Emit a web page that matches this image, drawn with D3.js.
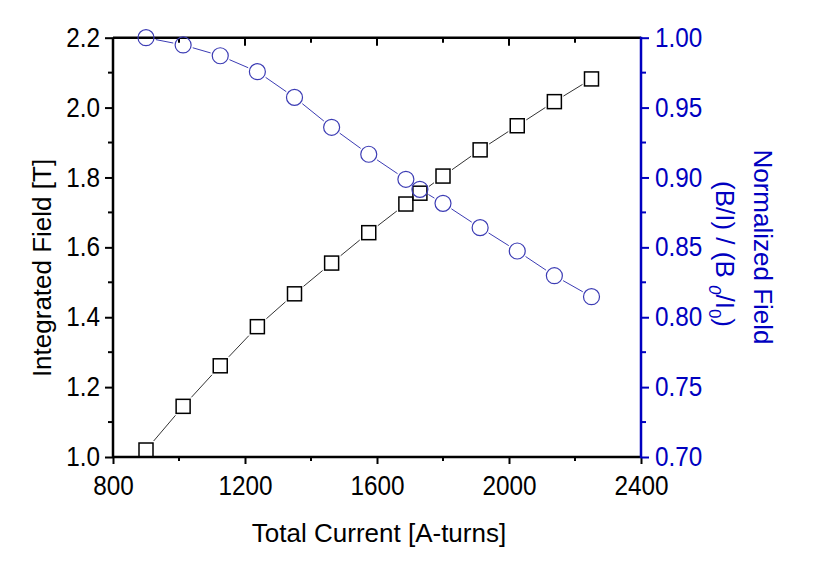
<!DOCTYPE html>
<html><head><meta charset="utf-8">
<script src="https://cdn.jsdelivr.net/npm/d3@7"></script>
<style>body{margin:0;background:#fff}svg{display:block}text{font-family:"Liberation Sans",Arial,sans-serif}</style>
</head><body><svg id="c" width="813" height="573"></svg>
<script>
const current = [900, 1012.5, 1125, 1237.5, 1350, 1462.5, 1575, 1687.5, 1730, 1800, 1912.5, 2025, 2137.5, 2250];
const integratedField = [1.020, 1.145, 1.261, 1.373, 1.467, 1.555, 1.642, 1.724, 1.755, 1.804, 1.879, 1.948, 2.017, 2.082];
const normalizedField = [1.000, 0.9948, 0.9871, 0.9757, 0.9573, 0.9359, 0.9166, 0.8987, 0.8915, 0.8815, 0.8641, 0.8474, 0.8297, 0.8147];
const xTicks = [800, 1200, 1600, 2000, 2400];
const yLeftTicks = [1.0, 1.2, 1.4, 1.6, 1.8, 2.0, 2.2];
const yRightTicks = [0.70, 0.75, 0.80, 0.85, 0.90, 0.95, 1.00];

const L = 113, R = 641, T = 37.7, B = 457;
const BLUE = "#0000c0", CIRC = "#3c3cb4";
const svg = d3.select("#c");
const x = d3.scaleLinear().domain([800, 2400]).range([L, R]);
const yL = d3.scaleLinear().domain([1.0, 2.2]).range([B, T]);
const yR = d3.scaleLinear().domain([0.70, 1.00]).range([B, T]);
const FS = 26, TFS = 27, SQ = 0.9;

function styleAxis(g, color) {
  g.select(".domain").remove();
  g.selectAll(".tick line").attr("stroke", color).attr("stroke-width", 2);
  g.selectAll(".tick text").attr("fill", color).attr("font-size", TFS)
    .attr("font-family", "Liberation Sans, Arial, sans-serif")
    .each(function () {
      const w = this.getComputedTextLength();
      d3.select(this).attr("textLength", w * SQ).attr("lengthAdjust", "spacingAndGlyphs");
    });
}
function minor(g, vals, scale, orient, len, color) {
  vals.forEach(v => {
    const p = scale(v);
    const ln = g.append("line").attr("stroke", color).attr("stroke-width", 2);
    if (orient === "left") ln.attr("x1", L).attr("x2", L - len).attr("y1", p).attr("y2", p);
    if (orient === "right") ln.attr("x1", R).attr("x2", R + len).attr("y1", p).attr("y2", p);
    if (orient === "bottom") ln.attr("x1", p).attr("x2", p).attr("y1", B).attr("y2", B + len);
    if (orient === "top") ln.attr("x1", p).attr("x2", p).attr("y1", T).attr("y2", T + len);
  });
}

// bottom axis
const gx = svg.append("g").attr("transform", `translate(0,${B})`)
  .call(d3.axisBottom(x).tickValues(xTicks).tickSize(7).tickPadding(12).tickFormat(d3.format("d")));
styleAxis(gx, "#000");
minor(svg.append("g"), [1000, 1400, 1800, 2200], x, "bottom", 4, "#000");
// top mirrored ticks (inward)
minor(svg.append("g"), xTicks.slice(1, -1), x, "top", 8, "#000");
minor(svg.append("g"), [1000, 1400, 1800, 2200], x, "top", 5, "#000");

// left axis
const gl = svg.append("g").attr("transform", `translate(${L},0)`)
  .call(d3.axisLeft(yL).tickValues(yLeftTicks).tickSize(8).tickPadding(5).tickFormat(d3.format(".1f")));
styleAxis(gl, "#000");
minor(svg.append("g"), [1.1, 1.3, 1.5, 1.7, 1.9, 2.1], yL, "left", 5, "#000");

// right axis
const gr = svg.append("g").attr("transform", `translate(${R},0)`)
  .call(d3.axisRight(yR).tickValues(yRightTicks).tickSize(8).tickPadding(6).tickFormat(d3.format(".2f")));
styleAxis(gr, BLUE);
minor(svg.append("g"), [0.725, 0.775, 0.825, 0.875, 0.925, 0.975], yR, "right", 5, BLUE);

// frame
svg.append("line").attr("x1", L).attr("x2", R).attr("y1", T).attr("y2", T).attr("stroke", "#000").attr("stroke-width", 2.5);
svg.append("line").attr("x1", L).attr("x2", R).attr("y1", B).attr("y2", B).attr("stroke", "#000").attr("stroke-width", 2.5);
svg.append("line").attr("x1", L).attr("x2", L).attr("y1", T).attr("y2", B).attr("stroke", "#000").attr("stroke-width", 2.5);
svg.append("line").attr("x1", R).attr("x2", R).attr("y1", T - 1).attr("y2", B + 1).attr("stroke", BLUE).attr("stroke-width", 2.5);

// connecting segments with gaps at markers
function segments(g, xs, ys, yScale, color, gapFn) {
  for (let i = 0; i < xs.length - 1; i++) {
    const x1 = x(xs[i]), y1 = yScale(ys[i]), x2 = x(xs[i + 1]), y2 = yScale(ys[i + 1]);
    const dx = x2 - x1, dy = y2 - y1, len = Math.hypot(dx, dy);
    const ux = dx / len, uy = dy / len;
    const gap = gapFn(ux, uy);
    if (len <= 2 * gap) continue;
    g.append("line")
      .attr("x1", x1 + ux * gap).attr("y1", y1 + uy * gap)
      .attr("x2", x2 - ux * gap).attr("y2", y2 - uy * gap)
      .attr("stroke", color).attr("stroke-width", 1);
  }
}
const HS = 7, CR = 8;
segments(svg.append("g"), current, integratedField, yL, "#333", (ux, uy) => (HS + 2) / Math.max(Math.abs(ux), Math.abs(uy)));
segments(svg.append("g"), current, normalizedField, yR, CIRC, () => CR + 2);

svg.append("g").selectAll("rect").data(current).join("rect")
  .attr("x", (d) => x(d) - HS).attr("y", (d, i) => yL(integratedField[i]) - HS)
  .attr("width", 2 * HS).attr("height", 2 * HS)
  .attr("fill", "none").attr("stroke", "#000").attr("stroke-width", 1.5);
svg.append("g").selectAll("circle").data(current).join("circle")
  .attr("cx", (d) => x(d)).attr("cy", (d, i) => yR(normalizedField[i])).attr("r", CR)
  .attr("fill", "none").attr("stroke", CIRC).attr("stroke-width", 1.2);

// axis titles
svg.append("text").attr("x", 379).attr("y", 542).attr("text-anchor", "middle")
  .attr("font-size", FS).attr("fill", "#000").text("Total Current [A-turns]");
svg.append("text").attr("transform", `translate(51,${268}) rotate(-90)`).attr("text-anchor", "middle")
  .attr("font-size", FS).attr("fill", "#000").text("Integrated Field [T]");
svg.append("text").attr("transform", `translate(754,${247}) rotate(90)`).attr("text-anchor", "middle")
  .attr("font-size", FS).attr("fill", BLUE).text("Normalized Field");
const t2 = svg.append("text").attr("transform", `translate(716,${254}) rotate(90)`).attr("text-anchor", "middle")
  .attr("font-size", FS).attr("fill", BLUE);
t2.append("tspan").text("(B/I) / (B ");
t2.append("tspan").attr("font-size", 17).attr("dy", 7).attr("font-style", "italic").text("0");
t2.append("tspan").attr("dy", -7).text("/I");
t2.append("tspan").attr("font-size", 17).attr("dy", 7).text("0");
t2.append("tspan").attr("dy", -7).text(")");
</script></body></html>
